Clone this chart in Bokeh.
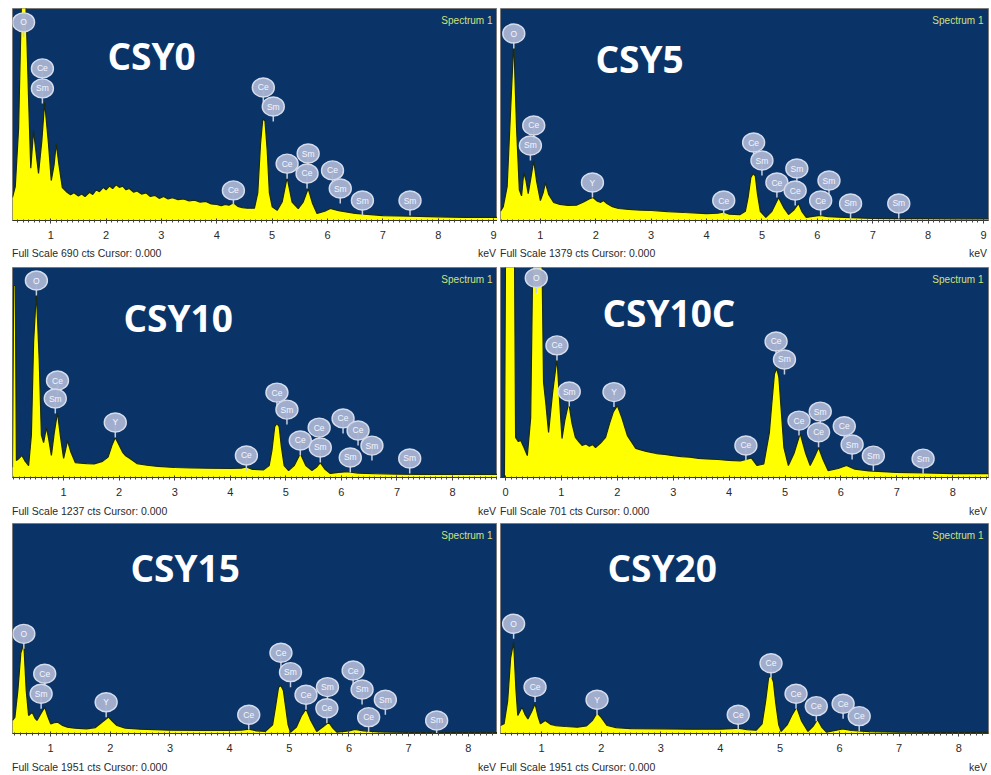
import numpy as np
from bokeh.plotting import figure
from bokeh.layouts import column, row
from bokeh.models import Label, FixedTicker, Range1d, Div
from bokeh.core.properties import value
from bokeh.embed import file_html
from bokeh.resources import INLINE

# ---------------- data ----------------
names = ["CSY0", "CSY5", "CSY10", "CSY10C", "CSY15", "CSY20"]
full_scale = [690, 1379, 1237, 701, 1951, 1951]
x_start = [0.31, 0.28, 0.08, -0.09, 0.36, 0.31]
x_end = [9.07, 9.09, 8.81, 8.64, 8.49, 8.50]
tick_values = [
    [1, 2, 3, 4, 5, 6, 7, 8, 9],
    [1, 2, 3, 4, 5, 6, 7, 8, 9],
    [1, 2, 3, 4, 5, 6, 7, 8],
    [0, 1, 2, 3, 4, 5, 6, 7, 8],
    [1, 2, 3, 4, 5, 6, 7, 8],
    [1, 2, 3, 4, 5, 6, 7, 8],
]

csy0_energy = [0.31, 0.36, 0.42, 0.47, 0.51, 0.55, 0.60, 0.64, 0.69, 0.73, 0.78, 0.84, 0.89, 0.96,
               1.01, 1.06, 1.10, 1.15, 1.21, 1.30, 1.36, 1.42, 1.50, 1.56, 1.62, 1.70, 1.76, 1.82,
               1.88, 1.95, 2.00, 2.06, 2.12, 2.18, 2.24, 2.30, 2.36, 2.42, 2.50, 2.56, 2.64, 2.72,
               2.80, 2.88, 2.96, 3.04, 3.12, 3.20, 3.30, 3.40, 3.50, 3.60, 3.70, 3.80, 3.90, 4.00,
               4.08, 4.15, 4.22, 4.30, 4.38, 4.46, 4.55, 4.68, 4.74, 4.79, 4.83, 4.87, 4.91, 4.95,
               5.00, 5.09, 5.18, 5.27, 5.36, 5.47, 5.56, 5.65, 5.73, 5.81, 5.95, 6.05,
               6.20, 6.50, 7.00, 7.50, 8.00, 8.50, 9.07]
csy0_counts = [75, 110, 300, 700, 760, 720, 400, 170, 293, 230, 153, 260, 385, 250,
               130, 180, 250, 180, 107, 91, 84, 90, 80, 86, 78, 92, 85, 100,
               94, 108, 100, 112, 104, 116, 108, 112, 100, 104, 92, 96, 86, 90,
               78, 82, 72, 78, 70, 74, 68, 70, 64, 66, 60, 62, 54, 52,
               48, 52, 50, 58, 46, 42, 40, 40, 90, 250, 330, 325, 230, 90,
               45, 33, 60, 140, 60, 39, 60, 104, 55, 23, 30, 39,
               32, 23, 16, 14, 12, 10, 10]

csy5_energy = [0.28, 0.33, 0.40, 0.46, 0.52, 0.57, 0.62, 0.66, 0.70, 0.74, 0.78, 0.83, 0.88, 0.93,
               1.00, 1.05, 1.09, 1.15, 1.24, 1.35, 1.50, 1.65, 1.78, 1.88, 1.95, 2.03, 2.09, 2.14,
               2.20, 2.30, 2.41, 2.60, 2.80, 3.00, 3.30, 3.60, 4.00, 4.20, 4.30, 4.40, 4.60, 4.70,
               4.75, 4.80, 4.84, 4.88, 4.92, 4.97, 5.07, 5.18, 5.30, 5.40, 5.48, 5.58, 5.66, 5.72,
               5.80, 5.95, 6.05, 6.20, 6.50, 7.00, 7.50, 8.00, 8.50, 9.09]
csy5_counts = [60, 90, 220, 700, 1170, 600, 200, 160, 312, 260, 175, 280, 390, 260,
               130, 180, 247, 170, 117, 105, 98, 100, 120, 140, 150, 125, 118, 130,
               110, 90, 78, 72, 68, 65, 58, 52, 45, 47, 55, 42, 38, 60,
               150, 280, 304, 290, 170, 60, 20, 60, 150, 80, 39, 70, 111, 60,
               20, 28, 33, 25, 20, 13, 12, 12, 11, 10]

csy10_energy = [0.08, 0.10, 0.13, 0.15, 0.19, 0.25, 0.30, 0.37, 0.42, 0.46, 0.51, 0.56, 0.60, 0.64,
                0.69, 0.73, 0.78, 0.83, 0.89, 0.94, 1.00, 1.04, 1.07, 1.13, 1.21, 1.30, 1.42, 1.55,
                1.70, 1.80, 1.87, 1.93, 2.00, 2.06, 2.11, 2.20, 2.32, 2.50, 2.70, 3.00, 3.30, 3.60,
                4.00, 4.20, 4.29, 4.40, 4.60, 4.70, 4.75, 4.80, 4.84, 4.88, 4.92, 4.97, 5.05, 5.15,
                5.26, 5.36, 5.47, 5.55, 5.62, 5.70, 5.80, 5.95, 6.10, 6.30, 6.60, 7.00, 7.50, 8.00,
                8.81]
csy10_counts = [60, 1131, 1131, 100, 110, 130, 100, 70, 250, 800, 1090, 700, 250, 206,
                294, 230, 130, 260, 383, 250, 112, 170, 218, 150, 88, 85, 82, 80,
                95, 120, 190, 236, 190, 150, 130, 110, 82, 72, 65, 59, 57, 55,
                53, 55, 62, 48, 45, 70, 160, 300, 318, 300, 180, 70, 41, 70,
                141, 70, 41, 60, 88, 50, 24, 30, 34, 26, 22, 20, 18, 18,
                18]

csy10c_energy = [-0.09, -0.02, 0.00, 0.16, 0.18, 0.23, 0.27, 0.33, 0.39, 0.45, 0.49, 0.65, 0.68, 0.72,
                 0.77, 0.84, 0.92, 0.97, 1.01, 1.06, 1.13, 1.19, 1.25, 1.31, 1.37, 1.44, 1.50, 1.56,
                 1.61, 1.70, 1.79, 1.86, 1.93, 2.00, 2.08, 2.18, 2.33, 2.42, 2.50, 2.60, 2.70, 2.85,
                 3.00, 3.15, 3.30, 3.45, 3.60, 3.80, 4.00, 4.20, 4.30,
                 4.40, 4.50, 4.62, 4.72, 4.76, 4.81, 4.85, 4.89, 4.93, 4.98, 5.06, 5.16, 5.27, 5.37,
                 5.45, 5.53, 5.60, 5.68, 5.77, 5.95, 6.10, 6.25, 6.50, 7.00, 7.50, 8.00, 8.64]
csy10c_counts = [0, 0, 760, 760, 134, 120, 124, 100, 73, 200, 760, 760, 318, 250,
                 150, 280, 397, 250, 130, 190, 250, 180, 134, 120, 107, 112, 104, 110,
                 100, 115, 134, 180, 220, 240, 200, 140, 97, 92, 88, 84, 80, 77,
                 73, 70, 68, 64, 62, 60, 57, 55, 60,
                 65, 40, 45, 150, 240, 345, 364, 335, 230, 100, 40, 80, 147, 80,
                 40, 70, 100, 60, 23, 30, 40, 28, 22, 17, 15, 13, 13]

csy15_energy = [0.36, 0.40, 0.45, 0.50, 0.55, 0.59, 0.63, 0.69, 0.74, 0.77, 0.83, 0.90, 0.95, 1.00,
                1.06, 1.12, 1.20, 1.28, 1.40, 1.60, 1.75, 1.85, 1.97, 2.04, 2.11, 2.25, 2.50, 3.00,
                3.50, 4.00, 4.20, 4.32, 4.45, 4.60, 4.72, 4.77, 4.82, 4.86, 4.90, 4.94, 4.98, 5.02,
                5.12, 5.20, 5.28, 5.36, 5.46, 5.56, 5.66, 5.73, 5.80, 6.00, 6.10, 6.25, 6.50, 7.00,
                7.50, 8.00, 8.49]
csy15_counts = [121, 150, 400, 750, 833, 400, 167, 198, 140, 121, 180, 245, 160, 90,
                100, 105, 75, 59, 50, 43, 55, 100, 152, 110, 74, 50, 40, 30,
                28, 28, 32, 40, 25, 20, 80, 250, 430, 446, 400, 240, 80, 12,
                60, 160, 229, 120, 19, 60, 105, 50, 12, 25, 37, 25, 15, 10,
                9, 9, 9]

csy20_energy = [0.31, 0.37, 0.43, 0.48, 0.53, 0.57, 0.60, 0.67, 0.72, 0.77, 0.83, 0.89, 0.94, 0.98,
                1.06, 1.15, 1.23, 1.40, 1.60, 1.75, 1.85, 1.93, 2.00, 2.10, 2.25, 2.50, 3.00, 3.50,
                4.00, 4.20, 4.30, 4.45, 4.60, 4.70, 4.76, 4.81, 4.85, 4.89, 4.93, 4.98, 5.02, 5.12,
                5.20, 5.28, 5.36, 5.47, 5.56, 5.63, 5.70, 5.78, 5.95, 6.05, 6.20, 6.50, 7.00, 7.50,
                8.00, 8.50]
csy20_counts = [74, 90, 300, 700, 848, 400, 167, 245, 180, 136, 200, 276, 160, 90,
                121, 85, 74, 65, 59, 70, 120, 192, 150, 74, 55, 45, 43, 40,
                40, 45, 50, 35, 30, 90, 300, 520, 539, 480, 280, 80, 19, 80,
                170, 245, 120, 19, 70, 130, 60, 12, 30, 43, 28, 18, 12, 11,
                10, 10]

# peak identification bubbles: element, energy, height of bubble
csy0_peak_elem = ["O", "Ce", "Sm", "Ce", "Ce", "Sm", "Ce", "Sm", "Ce", "Ce", "Sm", "Sm", "Sm"]
csy0_peak_energy = [0.51, 0.85, 0.85, 4.30, 4.84, 5.02, 5.27, 5.65, 5.63, 6.09, 6.23, 6.63, 7.49]
csy0_peak_counts = [645, 495, 430, 98, 433, 371, 185, 218, 153, 163, 104, 65, 65]

csy5_peak_elem = ["O", "Ce", "Sm", "Y", "Ce", "Ce", "Sm", "Ce", "Sm", "Ce", "Sm", "Ce", "Sm", "Sm"]
csy5_peak_energy = [0.52, 0.88, 0.82, 1.94, 4.31, 4.85, 5.00, 5.27, 5.63, 5.60, 6.21, 6.06, 6.60, 7.47]
csy5_peak_counts = [1216, 618, 488, 247, 130, 507, 390, 247, 338, 195, 260, 130, 111, 111]

csy10_peak_elem = ["O", "Ce", "Sm", "Y", "Ce", "Ce", "Sm", "Ce", "Ce", "Sm", "Ce", "Ce", "Sm", "Sm", "Sm"]
csy10_peak_energy = [0.51, 0.89, 0.85, 1.93, 4.29, 4.84, 5.02, 5.26, 5.60, 5.62, 6.03, 6.30, 6.55, 6.16, 7.23]
csy10_peak_counts = [1160, 571, 465, 324, 130, 500, 400, 218, 294, 177, 348, 277, 188, 118, 112]

csy10c_peak_elem = ["O", "Ce", "Sm", "Y", "Ce", "Ce", "Sm", "Ce", "Sm", "Ce", "Ce", "Sm", "Sm", "Sm"]
csy10c_peak_energy = [0.55, 0.92, 1.14, 1.94, 4.30, 4.84, 4.99, 5.25, 5.63, 5.60, 6.06, 6.20, 6.58, 7.47]
csy10c_peak_counts = [666, 441, 287, 285, 107, 454, 394, 190, 220, 151, 171, 110, 73, 63]

csy15_peak_elem = ["O", "Ce", "Sm", "Y", "Ce", "Ce", "Sm", "Ce", "Sm", "Ce", "Ce", "Sm", "Sm", "Ce", "Sm"]
csy15_peak_energy = [0.55, 0.90, 0.84, 1.93, 4.32, 4.86, 5.02, 5.28, 5.64, 5.63, 6.07, 6.22, 6.61, 6.33, 7.47]
csy15_peak_counts = [926, 555, 369, 291, 174, 750, 570, 360, 431, 235, 585, 409, 313, 152, 121]

csy20_peak_elem = ["O", "Ce", "Y", "Ce", "Ce", "Ce", "Ce", "Ce", "Ce"]
csy20_peak_energy = [0.53, 0.89, 1.93, 4.30, 4.85, 5.27, 5.61, 6.06, 6.33]
csy20_peak_counts = [1019, 431, 313, 174, 653, 369, 254, 276, 161]

spectra = [
    (csy0_energy, csy0_counts, csy0_peak_elem, csy0_peak_energy, csy0_peak_counts),
    (csy5_energy, csy5_counts, csy5_peak_elem, csy5_peak_energy, csy5_peak_counts),
    (csy10_energy, csy10_counts, csy10_peak_elem, csy10_peak_energy, csy10_peak_counts),
    (csy10c_energy, csy10c_counts, csy10c_peak_elem, csy10c_peak_energy, csy10c_peak_counts),
    (csy15_energy, csy15_counts, csy15_peak_elem, csy15_peak_energy, csy15_peak_counts),
    (csy20_energy, csy20_counts, csy20_peak_elem, csy20_peak_energy, csy20_peak_counts),
]

# ---------------- layout / style ----------------
BG = "#0a3468"
YELLOW = "#ffff00"
col_w = [497, 494]
col_border = [(12, 0), (3, 3)]
row_h = [261, 258, 256]
row_border = [(8, 41), (6, 42), (4, 42)]
DIV_H = 16
title_pos = [(95, 47), (95, 50), (111, 50), (102, 45), (118, 44), (107, 44)]
AX_FONT = value("Liberation Sans")

cells = []
for i, name in enumerate(names):
    r, c = divmod(i, 2)
    energy, counts, pel, pen, pct = spectra[i]
    fs = full_scale[i]
    left, right = col_border[c]
    top, bottom = row_border[r]
    frame_w = col_w[c] - left - right
    frame_h = row_h[r] - top - bottom
    p = figure(width=col_w[c], height=row_h[r] - DIV_H, output_backend="svg", toolbar_location=None,
               x_range=Range1d(x_start[i], x_end[i]), y_range=Range1d(0, fs),
               y_axis_type=None, min_border_left=left, min_border_right=right,
               min_border_top=top, min_border_bottom=bottom - DIV_H)
    p.background_fill_color = BG
    p.border_fill_color = "white"
    p.outline_line_color = "#7a7a7a"
    p.grid.visible = False

    p.varea(x=energy, y1=0, y2=counts, fill_color=YELLOW)
    p.line(x=energy, y=counts, line_color="#1c2a10", line_width=1.2)

    # bubbles with stems
    stem = 15 * fs / frame_h
    p.segment(x0=pen, y0=pct, x1=pen, y1=[v - stem for v in pct],
              line_color="#c3cde3", line_width=1.5)
    p.ellipse(x=pen, y=pct, width=22, height=19, width_units="screen", height_units="screen",
              fill_color="#a6b2cf", line_color="#d5dcec", line_width=1.4, fill_alpha=0.97)
    p.text(x=pen, y=pct, text=pel, text_align="center", text_baseline="middle",
           text_font_size="8.5px", text_color="#f4f6ff", text_font=AX_FONT)

    # axis
    ax = p.xaxis[0]
    minor = [round(v, 2) for v in np.arange(np.floor(x_start[i]), x_end[i], 0.1)]
    ax.ticker = FixedTicker(ticks=tick_values[i], minor_ticks=minor)
    ax.axis_line_color = "#333333"
    ax.major_tick_line_color = "#333333"
    ax.minor_tick_line_color = "#444444"
    ax.major_tick_in = 2
    ax.major_tick_out = 3
    ax.minor_tick_in = 1
    ax.minor_tick_out = 2
    ax.major_label_standoff = 7
    ax.major_label_text_font = "Liberation Sans"
    ax.major_label_text_font_size = "11px"
    ax.major_label_text_color = "#2a2a2a"

    # texts inside the frame
    tx, ty = title_pos[i]
    p.add_layout(Label(x=tx, y=frame_h - ty, x_units="screen", y_units="screen", text=name,
                       text_font="Open Sans", text_font_style="bold", text_font_size="37px",
                       text_color="white", text_baseline="alphabetic"))
    p.add_layout(Label(x=frame_w - 5, y=frame_h - 6, x_units="screen", y_units="screen",
                       text="Spectrum 1", text_font="Liberation Sans", text_font_size="10px",
                       text_color="#d2e07a", text_align="right", text_baseline="top"))

    # footer line under the axis
    html = (f'<div style="display:flex;justify-content:space-between;box-sizing:border-box;'
            f'width:{col_w[c]}px;height:{DIV_H}px;padding:0 {right + 1}px 0 {left}px;'
            f'font-family:\'Liberation Sans\',Arial,sans-serif;font-size:10.5px;color:#2a2a2a;'
            f'line-height:{DIV_H}px;white-space:nowrap;overflow:hidden">'
            f'<span>Full Scale {fs} cts Cursor: 0.000</span><span>keV</span></div>')
    d = Div(text=html, width=col_w[c], height=DIV_H, margin=0)
    cells.append(column(p, d, spacing=0))

layout = column(row(cells[0], cells[1], spacing=0),
                row(cells[2], cells[3], spacing=0),
                row(cells[4], cells[5], spacing=0), spacing=0)
open("out.html", "w").write(file_html(layout, INLINE))
